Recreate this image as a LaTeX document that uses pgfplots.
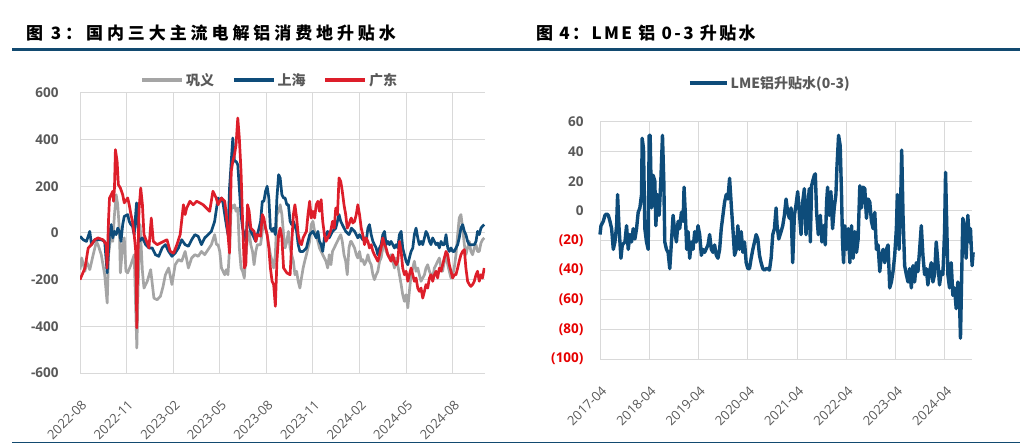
\documentclass[border=0pt]{standalone}
\usepackage{fontspec}
\setmainfont{Open Sans}
\newfontfamily\cjk{Noto Sans CJK SC}
\usepackage{pgfplots}
\pgfplotsset{compat=1.18}

\definecolor{gyc}{RGB}{165,165,165}
\definecolor{shc}{RGB}{14,76,122}
\definecolor{gdc}{RGB}{221,30,42}
\definecolor{txt}{RGB}{89,89,89}
\definecolor{gridc}{RGB}{217,217,217}
\definecolor{rulec}{RGB}{18,74,112}
\definecolor{negred}{RGB}{230,0,0}

\pgfplotsset{
  panel/.style={
    scale only axis,
    axis line style={draw=none},
    major tick length=0pt,
    grid=major,
    grid style={gridc, line width=1pt},
    /pgf/number format/assume math mode=true,
    yticklabel style={font=\bfseries\fontsize{13.5}{14}\selectfont, text=txt, xshift=-18pt},
    xticklabel style={font=\fontsize{13}{14}\selectfont, text=txt, rotate=45, anchor=north east, xshift=-14.5pt, yshift=-15.5pt},
    legend style={draw=none, fill=none, font=\cjk\bfseries\fontsize{14}{15}\selectfont, text=txt,
      /tikz/every even column/.append style={column sep=16pt}},
    legend image code/.code={\draw[#1, line width=3.5pt] (0pt,0pt) -- (40pt,0pt);},
  }
}

\begin{document}
\begin{tikzpicture}[x=1pt,y=1pt]
\path (0pt,0pt) rectangle (1034pt,444pt);
\draw[rulec, line width=3pt] (12pt,394pt) -- (1020pt,394pt);
\draw[rulec, line width=1pt] (12pt,1pt) -- (1020pt,1pt);
\node[anchor=west, inner sep=0pt] at (26pt,411pt) {\cjk\bfseries\fontsize{17}{17}\selectfont\addfontfeatures{LetterSpace=23}图 3：国内三大主流电解铝消费地升贴水};
\node[anchor=west, inner sep=0pt] at (536pt,411pt) {\cjk\bfseries\fontsize{17}{17}\selectfont\addfontfeatures{LetterSpace=14}图 4：LME 铝 0-3 升贴水};

% left: domestic premiums, x = months since 2022-08
\begin{axis}[panel,
  at={(80pt,71pt)}, anchor=south west,
  width=405pt, height=280pt,
  xmin=0, xmax=26.08, ymin=-600, ymax=600,
  xtick={0,3,...,24},
  xticklabels={2022-08,2022-11,2023-02,2023-05,2023-08,2023-11,2024-02,2024-05,2024-08},
  ytick={-600,-400,...,600},
  yticklabels={-600,-400,-200,0,200,400,600},
  legend columns=3,
  legend style={at={(0.469,1.046)}, anchor=center},
]
\addplot[gyc, line width=2.7pt, line join=round] coordinates {
(0,-157) (0.11,-107) (0.32,-164) (0.42,-121) (0.63,-157) (0.85,-93) (1.06,-36) (1.16,-50)
(1.37,-93) (1.59,-179) (1.75,-300) (1.84,-93) (1.97,-21) (2.11,-36) (2.22,79) (2.33,164)
(2.43,121) (2.54,7) (2.60,-171) (2.75,-50) (2.85,-21) (2.96,-164) (3.07,-171) (3.28,-136)
(3.49,-93) (3.66,-493) (3.74,-236) (3.87,36) (4.02,-164) (4.12,-236) (4.33,-207) (4.55,-157)
(4.76,-279) (4.97,-286) (5.18,-271) (5.35,-229) (5.50,-179) (5.71,-150) (5.92,-221) (6.13,-136)
(6.34,-114) (6.55,-121) (6.77,-79) (6.98,-150) (7.19,-107) (7.40,-93) (7.61,-100) (7.82,-79)
(8.03,-93) (8.25,-71) (8.46,-50) (8.67,-7) (8.79,-50) (8.89,-50) (9.00,-79) (9.11,-150)
(9.21,-164) (9.32,-179) (9.42,-157) (9.53,-179) (9.63,-64) (9.74,121) (9.84,107) (9.95,121)
(10.05,93) (10.16,107) (10.26,-64) (10.37,-150) (10.47,-164) (10.58,-193) (10.68,-93) (10.79,-21)
(10.89,7) (11.00,-50) (11.11,-79) (11.21,-136) (11.32,-79) (11.42,-50) (11.63,-50) (11.74,7)
(11.84,50) (11.95,21) (12.05,-7) (12.26,-93) (12.37,-121) (12.47,-150) (12.58,-93) (12.68,79)
(12.79,93) (12.89,121) (13.00,79) (13.11,-7) (13.21,-64) (13.32,-36) (13.42,7) (13.53,-64)
(13.63,-93) (13.74,-121) (13.84,-179) (13.95,-164) (14.05,-207) (14.16,-236) (14.26,-193) (14.37,-150)
(14.47,-121) (14.58,-93) (14.68,-64) (14.79,-36) (14.89,36) (15.00,50) (15.11,7) (15.21,-7)
(15.32,-36) (15.42,-64) (15.63,-93) (15.84,-121) (15.95,-150) (16.05,-93) (16.16,-136) (16.26,-79)
(16.47,-50) (16.68,-21) (16.79,-7) (16.89,-36) (17.00,-93) (17.11,-121) (17.21,-179) (17.32,-64)
(17.42,-36) (17.47,-36) (17.57,-50) (17.68,-64) (17.79,-93) (17.89,-107) (18.00,-79) (18.11,-121)
(18.21,-114) (18.32,-136) (18.43,-121) (18.54,-93) (18.64,-121) (18.75,-136) (18.86,-179) (18.96,-200)
(19.07,-179) (19.18,-164) (19.29,-121) (19.39,-107) (19.50,-64) (19.61,-36) (19.71,-79) (19.82,-93)
(19.93,-107) (20.03,-93) (20.14,-121) (20.25,-150) (20.36,-107) (20.46,-136) (20.57,-179) (20.68,-221)
(20.78,-264) (20.89,-293) (21.00,-264) (21.11,-321) (21.21,-250) (21.32,-179) (21.43,-150) (21.53,-121)
(21.64,-164) (21.75,-150) (21.85,-179) (21.96,-207) (22.07,-193) (22.18,-179) (22.28,-150) (22.39,-136)
(22.50,-164) (22.60,-179) (22.71,-193) (22.82,-150) (22.93,-136) (23.03,-121) (23.14,-107) (23.25,-150)
(23.35,-164) (23.46,-121) (23.57,-93) (23.68,-136) (23.78,-164) (23.89,-193) (24.00,-179) (24.10,-150)
(24.21,-93) (24.32,-7) (24.42,64) (24.53,79) (24.64,21) (24.75,-50) (24.85,-93) (24.96,-64)
(25.07,-36) (25.17,-79) (25.28,-93) (25.39,-64) (25.50,-50) (25.60,-79) (25.71,-79) (25.82,-43)
(25.92,-29) (26.03,-21)
};
\addlegendentry{巩义}
\addplot[shc, line width=2.7pt, line join=round] coordinates {
(0,-14) (0.21,-29) (0.42,-36) (0.63,7) (0.74,-50) (0.95,-29) (1.16,-29) (1.37,-29)
(1.59,-36) (1.75,-171) (1.90,-7) (2.01,36) (2.11,-21) (2.22,7) (2.33,-7) (2.43,21)
(2.54,7) (2.64,-36) (2.75,36) (2.85,71) (3.07,79) (3.17,50) (3.28,36) (3.38,29)
(3.49,-7) (3.64,129) (3.80,-36) (4.02,-21) (4.23,-50) (4.44,-64) (4.65,-64) (4.86,-93)
(5.07,-100) (5.29,-64) (5.50,-50) (5.71,-79) (5.92,-100) (6.13,-86) (6.34,-64) (6.55,-29)
(6.77,-50) (6.98,-57) (7.19,-29) (7.40,-7) (7.61,-14) (7.82,-50) (8.03,-21) (8.25,-7)
(8.46,7) (8.67,50) (8.89,150) (9.00,136) (9.11,150) (9.21,129) (9.32,79) (9.42,36)
(9.53,-7) (9.63,193) (9.74,307) (9.84,407) (9.95,307) (10.05,307) (10.16,293) (10.26,193)
(10.37,79) (10.47,21) (10.58,-7) (10.68,-36) (10.79,79) (10.89,50) (11.00,7) (11.11,-7)
(11.21,-21) (11.32,-36) (11.42,-7) (11.53,21) (11.63,50) (11.74,136) (11.84,136) (11.95,179)
(12.05,200) (12.16,150) (12.26,21) (12.37,7) (12.47,21) (12.58,-7) (12.68,150) (12.79,250)
(12.89,236) (13.00,164) (13.11,150) (13.21,150) (13.32,121) (13.42,121) (13.53,50) (13.63,36)
(13.74,50) (13.95,7) (14.05,-50) (14.16,-79) (14.37,-79) (14.58,-64) (14.79,-7) (15.00,7)
(15.11,-7) (15.21,-21) (15.32,7) (15.42,-36) (15.53,-50) (15.63,-79) (15.74,-21) (15.84,-7)
(15.95,7) (16.05,-21) (16.26,7) (16.47,21) (16.68,79) (16.79,50) (16.89,36) (17.11,7)
(17.32,-7) (17.42,7) (17.47,21) (17.57,14) (17.68,7) (17.79,-7) (17.89,-21) (18.00,-7)
(18.21,-29) (18.32,-21) (18.43,-36) (18.54,21) (18.64,36) (18.75,-7) (18.86,-36) (18.96,-50)
(19.07,-64) (19.18,-93) (19.29,-64) (19.39,-50) (19.50,-7) (19.61,7) (19.71,-50) (19.82,-36)
(19.93,-50) (20.03,-36) (20.14,-50) (20.25,-64) (20.36,-50) (20.46,-64) (20.57,-7) (20.68,7)
(20.78,-64) (20.89,-93) (21.00,-121) (21.11,-136) (21.21,-107) (21.32,-79) (21.43,-64) (21.53,-7)
(21.64,21) (21.75,-21) (21.85,-50) (21.96,-36) (22.07,-50) (22.18,-21) (22.28,7) (22.39,-7)
(22.50,-36) (22.60,-50) (22.71,-21) (22.82,-36) (22.93,-50) (23.03,-43) (23.14,-64) (23.25,-36)
(23.35,-50) (23.46,-50) (23.57,-7) (23.68,-64) (23.78,-79) (23.89,-64) (24.00,-79) (24.10,-79)
(24.21,-64) (24.32,-50) (24.42,-21) (24.53,21) (24.64,36) (24.75,7) (24.85,-7) (24.96,-36)
(25.07,-50) (25.28,-50) (25.39,-50) (25.50,-36) (25.60,7) (25.71,-7) (25.82,21) (25.92,29)
(26.03,36)
};
\addlegendentry{上海}
\addplot[gdc, line width=2.7pt, line join=round] coordinates {
(0,-200) (0.32,-150) (0.53,-64) (0.74,-50) (0.95,-29) (1.16,-21) (1.48,-29) (1.69,-50)
(1.74,-150) (1.84,60) (1.90,150) (2.01,164) (2.11,179) (2.16,136) (2.22,193) (2.28,357)
(2.39,307) (2.47,207) (2.60,193) (2.75,164) (2.85,129) (3.07,150) (3.17,121) (3.28,79)
(3.38,50) (3.49,-7) (3.59,-79) (3.66,-407) (3.70,-200) (3.80,100) (3.91,193) (4.02,121)
(4.12,-7) (4.33,-43) (4.44,-64) (4.59,64) (4.72,-36) (4.97,-50) (5.18,-43) (5.39,-36)
(5.60,-29) (5.81,-79) (6.03,-86) (6.24,-50) (6.45,-7) (6.66,121) (6.77,79) (6.87,107)
(7.08,136) (7.29,121) (7.51,136) (7.72,129) (7.93,121) (8.14,107) (8.35,93) (8.56,179)
(8.77,150) (8.89,121) (9.11,150) (9.32,136) (9.42,79) (9.53,-7) (9.63,-86) (9.74,264)
(9.84,307) (9.95,336) (10.05,379) (10.16,493) (10.26,407) (10.37,264) (10.47,50) (10.58,-150)
(10.68,-136) (10.79,121) (10.89,93) (11.00,21) (11.11,14) (11.21,7) (11.32,-36) (11.42,-7)
(11.63,-14) (11.74,79) (11.84,64) (11.95,21) (12.05,-7) (12.16,-64) (12.26,-150) (12.37,-207)
(12.47,-221) (12.58,-314) (12.68,-121) (12.79,-7) (12.89,21) (13.00,-21) (13.11,-150) (13.32,-171)
(13.53,-179) (13.63,-50) (13.74,79) (13.84,121) (13.95,64) (14.05,-7) (14.16,-43) (14.26,-50)
(14.37,-21) (14.58,7) (14.68,79) (14.79,136) (14.89,64) (15.00,93) (15.11,64) (15.21,121)
(15.32,136) (15.42,93) (15.53,143) (15.63,50) (15.74,-7) (15.84,-36) (16.05,-7) (16.16,14)
(16.26,50) (16.37,21) (16.47,107) (16.58,79) (16.68,236) (16.79,221) (16.89,179) (17.00,121)
(17.11,79) (17.21,21) (17.32,36) (17.42,57) (17.47,64) (17.57,43) (17.68,50) (17.79,79)
(17.89,121) (18.00,79) (18.11,21) (18.21,-7) (18.32,-50) (18.43,-21) (18.54,-36) (18.64,-64)
(18.75,-50) (18.86,-79) (18.96,-93) (19.07,-107) (19.18,-121) (19.29,-93) (19.39,-64) (19.50,-21)
(19.61,-50) (19.71,-64) (19.82,-93) (19.93,-107) (20.03,-121) (20.14,-93) (20.25,-121) (20.36,-136)
(20.46,-121) (20.57,-36) (20.68,-79) (20.78,-150) (20.89,-179) (21.00,-164) (21.11,-207) (21.21,-179)
(21.32,-150) (21.43,-179) (21.53,-207) (21.64,-193) (21.75,-236) (21.85,-250) (21.96,-236) (22.07,-279)
(22.18,-250) (22.28,-221) (22.39,-236) (22.50,-193) (22.60,-179) (22.71,-207) (22.82,-179) (22.93,-164)
(23.03,-193) (23.14,-150) (23.25,-164) (23.35,-136) (23.46,-107) (23.57,-79) (23.68,-93) (23.78,-136)
(23.89,-164) (24.00,-193) (24.10,-179) (24.21,-179) (24.32,-150) (24.42,-121) (24.53,-93) (24.64,-79)
(24.75,-71) (24.85,-150) (24.96,-207) (25.07,-221) (25.17,-229) (25.28,-221) (25.39,-207) (25.50,-179)
(25.60,-164) (25.71,-207) (25.82,-179) (25.92,-193) (26.03,-150)
};
\addlegendentry{广东}
\end{axis}

% right: LME 0-3, x = years since 2017-04
\begin{axis}[panel,
  at={(600pt,85pt)}, anchor=south west,
  width=372pt, height=237pt,
  xmin=0, xmax=7.55, ymin=-100, ymax=60,
  xtick={0,...,7},
  xticklabels={2017-04,2018-04,2019-04,2020-04,2021-04,2022-04,2023-04,2024-04},
  ytick={-100,-80,...,60},
  yticklabels={\textcolor{negred}{(100)},\textcolor{negred}{(80)},\textcolor{negred}{(60)},\textcolor{negred}{(40)},\textcolor{negred}{(20)},0,20,40,60},
  yticklabel style={xshift=5pt},
  clip=false,
  legend style={at={(0.457,1.165)}, anchor=center},
  legend image code/.code={\draw[#1, line width=3.5pt] (0pt,0pt) -- (37pt,0pt);},
]
\addplot[shc, line width=3.4pt, line join=round] coordinates {
(0,-16) (0.02,-10) (0.067,-7) (0.101,-3) (0.135,-2) (0.169,-3) (0.202,-7) (0.236,-12)
(0.27,-26) (0.303,-21) (0.337,-10) (0.357,11) (0.384,-10) (0.425,-32) (0.452,-23) (0.506,-21)
(0.539,-10) (0.573,-26) (0.607,-16) (0.641,-21) (0.674,-12) (0.708,-19) (0.742,-12) (0.775,-1)
(0.809,2) (0.843,11) (0.856,49) (0.883,42) (0.91,-12) (0.944,-21) (0.978,-26) (0.998,51)
(1.018,51) (1.045,2) (1.079,24) (1.113,20) (1.133,-10) (1.167,11) (1.2,-3) (1.234,20)
(1.268,51) (1.295,20) (1.315,-21) (1.349,-26) (1.382,-28) (1.416,-39) (1.45,-21) (1.483,-3)
(1.517,-14) (1.551,-21) (1.585,-7) (1.618,-12) (1.652,-1) (1.686,-7) (1.706,16) (1.733,-3)
(1.76,-26) (1.787,-14) (1.821,-32) (1.854,-21) (1.888,-26) (1.922,-14) (1.955,-21) (1.989,-10)
(2.023,-16) (2.057,-30) (2.09,-26) (2.124,-28) (2.192,-23) (2.225,-16) (2.259,-26) (2.293,-28)
(2.326,-23) (2.36,-30) (2.394,-32) (2.428,-26) (2.461,-12) (2.495,-3) (2.529,6) (2.562,11)
(2.596,8) (2.63,22) (2.664,4) (2.697,-12) (2.731,-30) (2.765,-26) (2.798,-10) (2.832,-26)
(2.866,-14) (2.9,-28) (2.933,-21) (2.967,-35) (3.001,-39) (3.034,-39) (3.068,-32) (3.102,-26)
(3.136,-21) (3.169,-16) (3.203,-19) (3.237,-30) (3.27,-35) (3.304,-39) (3.338,-40) (3.372,-39)
(3.405,-39) (3.439,-40) (3.473,-32) (3.506,-16) (3.54,-12) (3.574,2) (3.594,-10) (3.628,-19)
(3.675,-14) (3.709,-10) (3.742,-3) (3.776,8) (3.81,-1) (3.844,-5) (3.877,2) (3.911,-35)
(3.945,-3) (3.978,4) (4.012,13) (4.046,-1) (4.08,-16) (4.113,6) (4.147,15) (4.181,-16)
(4.214,2) (4.248,15) (4.268,-21) (4.295,17) (4.316,20) (4.349,24) (4.37,25) (4.396,-1)
(4.43,-16) (4.471,-3) (4.504,-21) (4.538,-10) (4.572,-23) (4.599,6) (4.619,16) (4.653,-3)
(4.686,13) (4.72,-12) (4.754,2) (4.788,11) (4.808,29) (4.842,51) (4.875,44) (4.902,11)
(4.922,-21) (4.943,-35) (4.97,-10) (5.003,-26) (5.037,-12) (5.071,-35) (5.105,-10) (5.138,-32)
(5.172,-14) (5.206,-28) (5.239,-19) (5.273,17) (5.307,2) (5.341,16) (5.374,15) (5.408,-5)
(5.442,8) (5.475,6) (5.509,-7) (5.543,-12) (5.577,-1) (5.61,-26) (5.644,-23) (5.678,-41)
(5.711,-30) (5.745,-26) (5.779,-35) (5.813,-26) (5.846,-23) (5.88,-52) (5.914,-48) (5.947,-41)
(5.981,-30) (6.015,-12) (6.035,11) (6.069,-26) (6.103,8) (6.123,41) (6.15,-3) (6.183,-37)
(6.217,-43) (6.251,-48) (6.285,-39) (6.318,-52) (6.352,-37) (6.386,-48) (6.419,-35) (6.453,-41)
(6.487,-26) (6.521,-10) (6.554,-30) (6.588,-43) (6.622,-39) (6.655,-50) (6.689,-41) (6.723,-35)
(6.757,-48) (6.79,-43) (6.824,-21) (6.858,-35) (6.891,-50) (6.925,-41) (6.959,-43) (6.993,-14)
(7.013,26) (7.033,-3) (7.06,-43) (7.094,-52) (7.128,-35) (7.161,-57) (7.195,-52) (7.229,-66)
(7.262,-48) (7.296,-61) (7.316,-86) (7.336,-52) (7.363,-5) (7.397,-10) (7.431,-32) (7.465,-3)
(7.498,-21) (7.519,-12) (7.552,-37) (7.573,-28)
};
\addlegendentry{LME铝升贴水(0-3)}
\end{axis}
\end{tikzpicture}
\end{document}
